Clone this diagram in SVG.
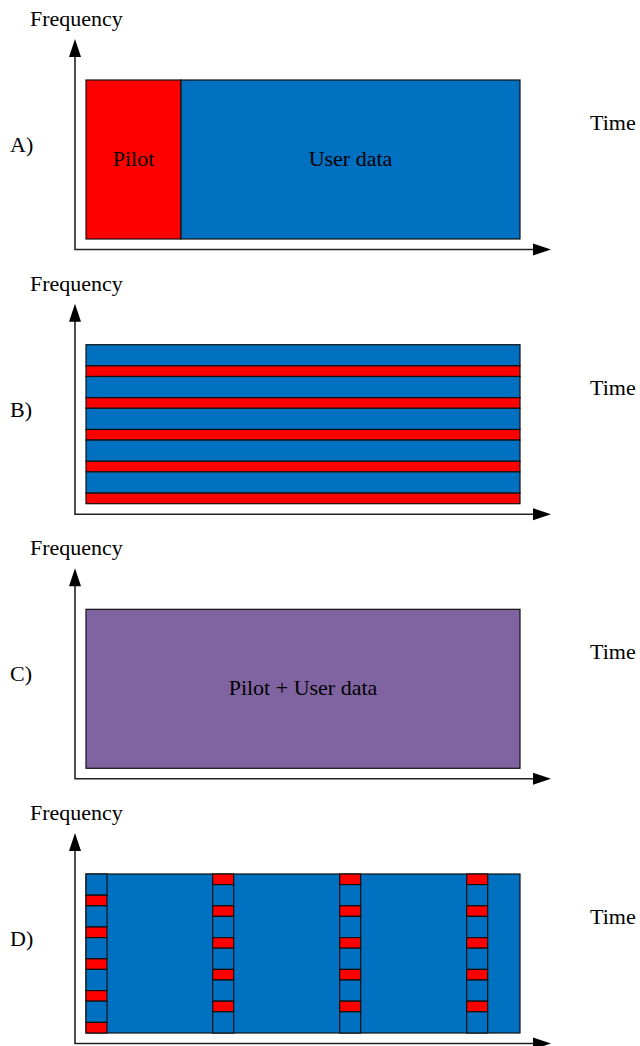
<svg xmlns="http://www.w3.org/2000/svg" width="640" height="1046" viewBox="0 0 640 1046" font-family="Liberation Serif" font-size="22">
<style>
text{font-family:'Liberation Serif','Times New Roman',Times,serif;font-size:22px;fill:#000}
.mid{text-anchor:middle}
.ax{stroke:#222;stroke-width:1.6;fill:none}
.hd{fill:#000}
.b{fill:#0070C0;stroke:#111;stroke-width:1.2}
.r{fill:#FF0000;stroke:#111;stroke-width:1.2}
.p{fill:#8064A2;stroke:#111;stroke-width:1.2}
</style>
<defs>
<g id="axes">
<path class="ax" d="M75,56 V249.5 H534"/>
<polygon class="hd" points="75,39 69,57 81,57"/>
<polygon class="hd" points="551,249.5 533,243.5 533,255.5"/>
<text x="30" y="26">Frequency</text>
<text x="590" y="130">Time</text>
</g>
<g id="colA">
<rect class="b" x="86" y="0" width="21" height="21.2"/>
<rect class="r" x="86" y="21.2" width="21" height="10.6"/>
<rect class="b" x="86" y="31.8" width="21" height="21.2"/>
<rect class="r" x="86" y="53" width="21" height="10.6"/>
<rect class="b" x="86" y="63.6" width="21" height="21.2"/>
<rect class="r" x="86" y="84.8" width="21" height="10.6"/>
<rect class="b" x="86" y="95.4" width="21" height="21.2"/>
<rect class="r" x="86" y="116.6" width="21" height="10.6"/>
<rect class="b" x="86" y="127.2" width="21" height="21.2"/>
<rect class="r" x="86" y="148.4" width="21" height="10.6"/>
</g>
<g id="colB">
<rect class="r" x="0" y="0" width="21" height="10.6"/>
<rect class="b" x="0" y="10.6" width="21" height="21.2"/>
<rect class="r" x="0" y="31.8" width="21" height="10.6"/>
<rect class="b" x="0" y="42.4" width="21" height="21.2"/>
<rect class="r" x="0" y="63.6" width="21" height="10.6"/>
<rect class="b" x="0" y="74.2" width="21" height="21.2"/>
<rect class="r" x="0" y="95.4" width="21" height="10.6"/>
<rect class="b" x="0" y="106" width="21" height="21.2"/>
<rect class="r" x="0" y="127.2" width="21" height="10.6"/>
<rect class="b" x="0" y="137.8" width="21" height="21.2"/>
</g>
</defs>

<g id="panelA">
<use href="#axes"/>
<rect class="r" x="86" y="80" width="95" height="159"/>
<rect class="b" x="181" y="80" width="339" height="159"/>
<text x="10" y="152">A)</text>
<text class="mid" x="133.5" y="166">Pilot</text>
<text class="mid" x="350.5" y="166">User data</text>
</g>

<g id="panelB" transform="translate(0,264.7)">
<use href="#axes"/>
<rect class="b" x="86" y="80" width="434" height="21.2"/>
<rect class="r" x="86" y="101.2" width="434" height="10.6"/>
<rect class="b" x="86" y="111.8" width="434" height="21.2"/>
<rect class="r" x="86" y="133" width="434" height="10.6"/>
<rect class="b" x="86" y="143.6" width="434" height="21.2"/>
<rect class="r" x="86" y="164.8" width="434" height="10.6"/>
<rect class="b" x="86" y="175.4" width="434" height="21.2"/>
<rect class="r" x="86" y="196.6" width="434" height="10.6"/>
<rect class="b" x="86" y="207.2" width="434" height="21.2"/>
<rect class="r" x="86" y="228.4" width="434" height="10.6"/>
<text x="10" y="152">B)</text>
</g>

<g id="panelC" transform="translate(0,529.3)">
<use href="#axes"/>
<rect class="p" x="86" y="80" width="434" height="159"/>
<text x="10" y="152">C)</text>
<text class="mid" x="303" y="166">Pilot + User data</text>
</g>

<g id="panelD" transform="translate(0,794)">
<use href="#axes"/>
<rect class="b" x="86" y="80" width="434" height="159"/>
<use href="#colA" transform="translate(0,80)"/>
<use href="#colB" transform="translate(212.7,80)"/>
<use href="#colB" transform="translate(339.7,80)"/>
<use href="#colB" transform="translate(466.7,80)"/>
<text x="10" y="152">D)</text>
</g>
</svg>
